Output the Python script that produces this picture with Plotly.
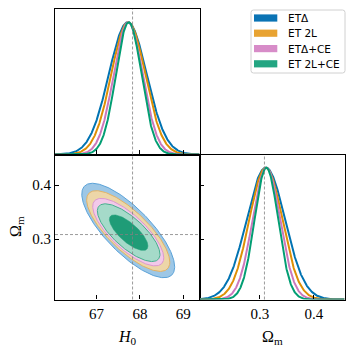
import numpy as np
import plotly.graph_objects as go

# ---------------- data ----------------
names = ["ETΔ", "ET 2L", "ETΔ+CE", "ET 2L+CE"]
H0_mean = [67.72, 67.73, 67.73, 67.74]
Om_mean = [0.311, 0.311, 0.312, 0.312]
H0_sigma = [0.438, 0.392, 0.335, 0.295]
Om_sigma = [0.0358, 0.0306, 0.0256, 0.0219]
H0_center2d = [67.73, 67.73, 67.73, 67.74]
Om_center2d = [0.316, 0.315, 0.313, 0.312]
rho = [-0.77, -0.77, -0.76, -0.75]
H0_true = 67.83
Om_true = 0.3085
H0_ticks = [67, 68, 69]
Om_ticks = [0.3, 0.4]
H0_ticktext = ["67", "68", "69"]
Om_ticktext = ["0.3", "0.4"]
H0_range = [66.04, 69.375]
Om_range = [0.188, 0.457]
levels_chi2 = [5.991, 2.279]  # 95% and 68% 2D

# ---------------- styles ----------------
line_col = ["#0173b2", "#de8f05", "#cc78bc", "#029e73"]
fill2 = ["#9dc7e6", "#edd6a8", "#f2c9e9", "#a5dac9"]
fill1 = ["#2f86c0", "#e09a2a", "#d08cc4", "#1f9c77"]
edge2 = ["#5aa2d8", "#e4b264", "#dc98d0", "#45b08e"]
legend_col = ["#0a73b4", "#e8a332", "#d78cc8", "#23a582"]

OFF = 8           # default page body margin
W = H = 354 - 2 * OFF
def px(x): return (x - OFF) / W
def py(y): return 1 - (y - OFF) / H

L, M, R = 55, 199.5, 344.5
T, MID, B = 9, 154.5, 299.5

fig = go.Figure()

# ---------- 2D contours (bottom-left: x2/y2) ----------
t = np.linspace(0, 2 * np.pi, 300)
for i in range(4):
    cov = np.array([[H0_sigma[i] ** 2, rho[i] * H0_sigma[i] * Om_sigma[i]],
                    [rho[i] * H0_sigma[i] * Om_sigma[i], Om_sigma[i] ** 2]])
    Lc = np.linalg.cholesky(cov)
    for k, c2 in enumerate(levels_chi2):
        pts = np.sqrt(c2) * (Lc @ np.vstack([np.cos(t), np.sin(t)]))
        xs = H0_center2d[i] + pts[0]
        ys = Om_center2d[i] + pts[1]
        if k == 0:
            fig.add_trace(go.Scatter(x=xs, y=ys, mode="lines", fill="toself",
                                     fillcolor=fill2[i], line=dict(color=edge2[i], width=1),
                                     xaxis="x2", yaxis="y2", showlegend=False, hoverinfo="skip"))
        else:
            fig.add_trace(go.Scatter(x=xs, y=ys, mode="lines", fill="toself",
                                     fillcolor=fill1[i], line=dict(color=fill1[i], width=0.5),
                                     xaxis="x2", yaxis="y2", showlegend=False, hoverinfo="skip"))

# ---------- 1D marginals ----------
hx = np.linspace(H0_range[0], H0_range[1], 400)
ox = np.linspace(Om_range[0], Om_range[1], 400)
for i in range(4):
    fig.add_trace(go.Scatter(x=hx, y=np.exp(-0.5 * ((hx - H0_mean[i]) / H0_sigma[i]) ** 2),
                             mode="lines", line=dict(color=line_col[i], width=2),
                             xaxis="x", yaxis="y", showlegend=False, hoverinfo="skip"))
    fig.add_trace(go.Scatter(x=ox, y=np.exp(-0.5 * ((ox - Om_mean[i]) / Om_sigma[i]) ** 2),
                             mode="lines", line=dict(color=line_col[i], width=2),
                             xaxis="x3", yaxis="y3", showlegend=False, hoverinfo="skip"))

# invisible trace for extra tick axis
fig.add_trace(go.Scatter(x=[Om_range[0]], y=[Om_range[0]], mode="markers",
                         marker=dict(opacity=0), xaxis="x3", yaxis="y4",
                         showlegend=False, hoverinfo="skip"))

# ---------- truth lines ----------
dash = dict(color="#808080", width=0.8, dash="3px,2px")
fig.add_shape(type="line", xref="x", yref="y domain", x0=H0_true, x1=H0_true, y0=0, y1=1, line=dash)
fig.add_shape(type="line", xref="x2", yref="y2 domain", x0=H0_true, x1=H0_true, y0=0, y1=1, line=dash)
fig.add_shape(type="line", xref="x2 domain", yref="y2", x0=0, x1=1, y0=Om_true, y1=Om_true, line=dash)
fig.add_shape(type="line", xref="x3", yref="y3 domain", x0=Om_true, x1=Om_true, y0=0, y1=1, line=dash)

# ---------- legend (manual) ----------
bx0, bx1, by0, by1, r = 251, 345, 10, 73, 2.5
path = (f"M {px(bx0 + r)},{py(by0)} L {px(bx1 - r)},{py(by0)} Q {px(bx1)},{py(by0)} {px(bx1)},{py(by0 + r)} "
        f"L {px(bx1)},{py(by1 - r)} Q {px(bx1)},{py(by1)} {px(bx1 - r)},{py(by1)} "
        f"L {px(bx0 + r)},{py(by1)} Q {px(bx0)},{py(by1)} {px(bx0)},{py(by1 - r)} "
        f"L {px(bx0)},{py(by0 + r)} Q {px(bx0)},{py(by0)} {px(bx0 + r)},{py(by0)} Z")
fig.add_shape(type="path", xref="paper", yref="paper", path=path,
              line=dict(color="#d0d0d0", width=1), fillcolor="rgba(255,255,255,0.8)")
rows = [18, 33.2, 48.6, 63.8]
for i in range(4):
    fig.add_shape(type="rect", xref="paper", yref="paper",
                  x0=px(254), x1=px(277.3), y0=py(rows[i] - 3.6), y1=py(rows[i] + 3.6),
                  line=dict(width=0), fillcolor=legend_col[i])
    fig.add_annotation(xref="paper", yref="paper", x=px(286), y=py(rows[i]), text=names[i],
                       showarrow=False, xanchor="left", yanchor="middle",
                       font=dict(family="DejaVu Sans", size=10.5, color="black"))

# ---------- axis titles ----------
serif = "Liberation Serif"
fig.add_annotation(xref="paper", yref="paper", x=px((L + M) / 2), y=py(337),
                   text="<i>H</i><sub>0</sub>", showarrow=False, xanchor="center", yanchor="middle",
                   font=dict(family=serif, size=16, color="black"))
fig.add_annotation(xref="paper", yref="paper", x=px((M + R) / 2), y=py(337),
                   text="Ω<sub>m</sub>", showarrow=False, xanchor="center", yanchor="middle",
                   font=dict(family=serif, size=16, color="black"))
fig.add_annotation(xref="paper", yref="paper", x=px(16), y=py((MID + B) / 2),
                   text="Ω<sub>m</sub>", showarrow=False, xanchor="center", yanchor="middle",
                   textangle=-90, font=dict(family=serif, size=16, color="black"))

common = dict(showline=True, linecolor="black", linewidth=1.2, mirror=True,
              showgrid=False, zeroline=False, ticks="inside", ticklen=4, tickwidth=1,
              tickcolor="black", tickfont=dict(family=serif, size=15, color="black"))

fig.update_layout(
    width=W, height=H, margin=dict(l=0, r=0, t=0, b=0),
    paper_bgcolor="white", plot_bgcolor="white", showlegend=False,
    xaxis=dict(domain=[px(L), px(M)], range=H0_range, anchor="y",
               tickvals=H0_ticks, showticklabels=False, **common),
    yaxis=dict(domain=[py(MID), py(T)], range=[0, 1.1], anchor="x",
               **{**common, "ticks": ""}, showticklabels=False),
    xaxis2=dict(domain=[px(L), px(M)], range=H0_range, anchor="y2",
                tickvals=H0_ticks, ticktext=H0_ticktext, **common),
    yaxis2=dict(domain=[py(B), py(MID)], range=Om_range, anchor="x2",
                tickvals=Om_ticks, ticktext=Om_ticktext, **common),
    xaxis3=dict(domain=[px(M), px(R)], range=Om_range, anchor="y3",
                tickvals=Om_ticks, ticktext=Om_ticktext, **common),
    yaxis3=dict(domain=[py(B), py(MID)], range=[0, 1.1], anchor="x3",
                **{**common, "ticks": ""}, showticklabels=False),
    yaxis4=dict(overlaying="y3", anchor="x3", side="left", range=Om_range,
                tickvals=Om_ticks, showticklabels=False, ticks="inside", ticklen=4,
                tickwidth=1, tickcolor="black", showgrid=False, zeroline=False, showline=False),
)

fig.write_html("out.html")
